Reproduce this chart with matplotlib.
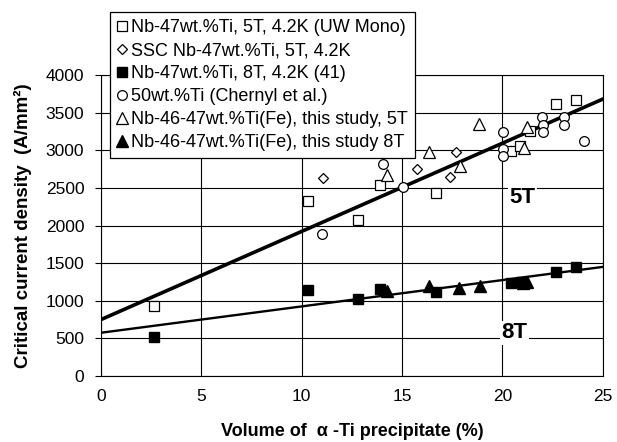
import numpy as np
import matplotlib
matplotlib.use("Agg")
import matplotlib.pyplot as plt

plt.rcParams['font.family'] = ['Liberation Sans', 'DejaVu Sans']

# --------- DATOS ---------
# Nb-47wt.%Ti, 5T, 4.2K (UW Mono) - cuadrados abiertos
uw_x = [2.65, 10.33, 12.81, 13.9, 16.71, 20.45, 20.87, 21.37, 22.65, 23.64]
uw_y = [930, 2330, 2069, 2540, 2426, 2995, 3052, 3255, 3620, 3664]

# SSC Nb-47wt.%Ti, 5T, 4.2K - rombos abiertos
ssc_x = [11.04, 15.72, 17.41, 17.71]
ssc_y = [2627, 2750, 2650, 2975]

# Nb-47wt.%Ti, 8T, 4.2K (41) - cuadrados llenos
ref41_x = [2.65, 10.33, 12.79, 13.92, 16.71, 20.44, 20.9, 22.65, 23.64]
ref41_y = [519, 1144, 1025, 1162, 1120, 1235, 1255, 1377, 1443]

# 50wt.%Ti (Chernyl et al.) - circulos abiertos
cher_x = [11.0, 14.04, 15.03, 20.02, 20.02, 20.02, 21.98, 22.03, 22.03, 23.06, 23.06, 24.06]
cher_y = [1890, 2815, 2507, 3244, 3020, 2918, 3440, 3342, 3244, 3440, 3342, 3127]

# Nb-46-47wt.%Ti(Fe), este estudio, 5T - triangulos abiertos
t5_x = [14.25, 16.35, 17.91, 18.85, 21.07, 21.2]
t5_y = [2665, 2980, 2790, 3355, 3029, 3306]

# Nb-46-47wt.%Ti(Fe), este estudio, 8T - triangulos llenos
t8_x = [14.26, 16.35, 17.86, 18.87, 21.0, 21.2]
t8_y = [1130, 1200, 1175, 1197, 1235, 1255]

# Rectas de ajuste (extremos)
fit_x = [0, 25]
fit5_y = [750, 3680]
fit8_y = [575, 1450]

x_ticks = [0, 5, 10, 15, 20, 25]
y_ticks = [0, 500, 1000, 1500, 2000, 2500, 3000, 3500, 4000]

# --------- FIGURA ---------
fig = plt.figure(figsize=(6.17, 4.42), dpi=100)
ax = fig.add_axes([0.1637, 0.1493, 0.8133, 0.681])

ax.plot(fit_x, fit5_y, color='black', linewidth=2.6, zorder=3)
ax.plot(fit_x, fit8_y, color='black', linewidth=1.7, zorder=3)

ax.plot(uw_x, uw_y, 's', markersize=7, markerfacecolor='white', markeredgecolor='black',
        markeredgewidth=0.9, zorder=4, label='Nb-47wt.%Ti, 5T, 4.2K (UW Mono)')
ax.plot(ssc_x, ssc_y, 'D', markersize=5, markerfacecolor='white', markeredgecolor='black',
        markeredgewidth=0.9, zorder=4, label='SSC Nb-47wt.%Ti, 5T, 4.2K')
ax.plot(ref41_x, ref41_y, 's', markersize=7, color='black', zorder=4,
        label='Nb-47wt.%Ti, 8T, 4.2K (41)')
ax.plot(cher_x, cher_y, 'o', markersize=7, markerfacecolor='white', markeredgecolor='black',
        markeredgewidth=0.9, zorder=4, label='50wt.%Ti (Chernyl et al.)')
ax.plot(t5_x, t5_y, '^', markersize=8.5, markerfacecolor='white', markeredgecolor='black',
        markeredgewidth=0.9, zorder=4, label='Nb-46-47wt.%Ti(Fe), this study, 5T')
ax.plot(t8_x, t8_y, '^', markersize=8.5, color='black', zorder=4,
        label='Nb-46-47wt.%Ti(Fe), this study 8T')

ax.text(21.0, 2373, '5T', fontsize=16, fontweight='bold', ha='center', va='center',
        bbox=dict(facecolor='white', edgecolor='none', pad=1), zorder=5)
ax.text(20.6, 572, '8T', fontsize=16, fontweight='bold', ha='center', va='center',
        bbox=dict(facecolor='white', edgecolor='none', pad=1), zorder=5)

ax.set_xlim(0, 25)
ax.set_ylim(0, 4000)
ax.set_xticks(x_ticks)
ax.set_yticks(y_ticks)
ax.grid(True, color='black', linewidth=0.8)
ax.set_axisbelow(True)
for s in ax.spines.values():
    s.set_linewidth(0.8)
ax.tick_params(axis='x', length=0, pad=9, labelsize=12.5)
ax.tick_params(axis='y', length=4, pad=8, labelsize=12.5, direction='out')

ax.set_xlabel('Volume of  \u03b1 -Ti precipitate (%)', fontsize=13, fontweight='bold', labelpad=14)
ax.set_ylabel('Critical current density  (A/mm\u00b2)', fontsize=13.5, fontweight='bold', labelpad=10)

leg = ax.legend(loc='upper left', bbox_to_anchor=(110 / 617, 1 - 12 / 442),
                bbox_transform=fig.transFigure, borderaxespad=0, fontsize=13.0,
                handlelength=0.5, handletextpad=0.25, borderpad=0.4, labelspacing=0.33,
                fancybox=False, framealpha=1, edgecolor='black')
leg.get_frame().set_linewidth(0.9)
leg.set_zorder(6)

fig.savefig('out.png', dpi=100)
